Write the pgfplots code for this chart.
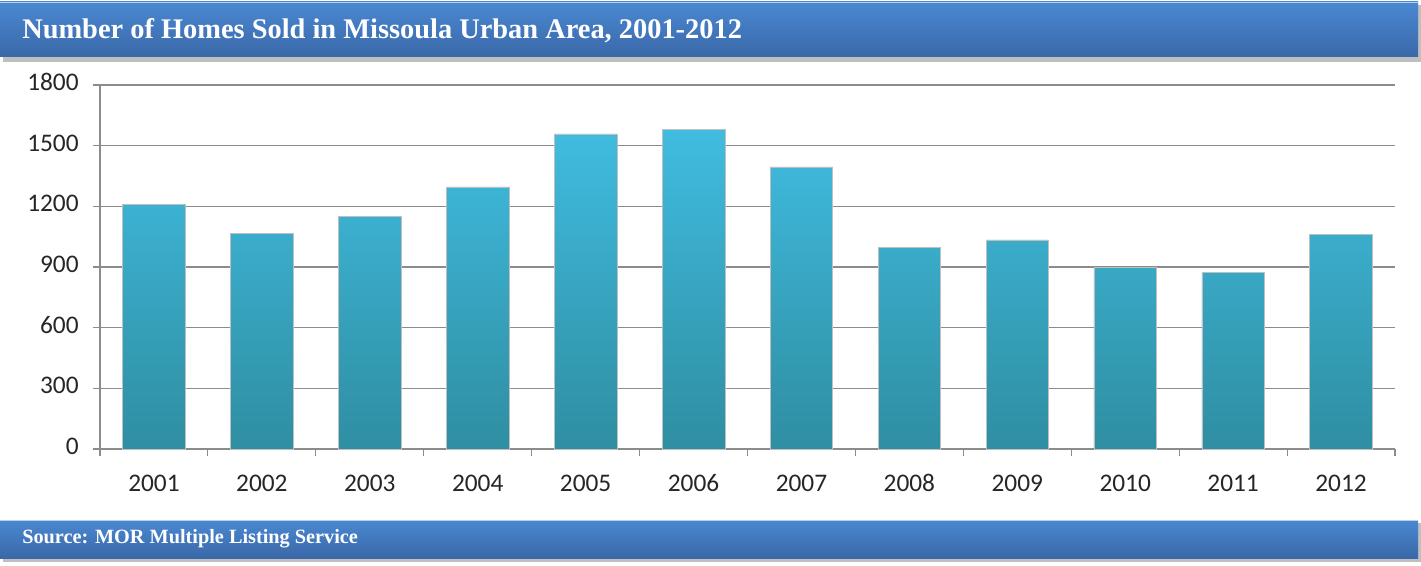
\documentclass[border=0pt]{standalone}
\usepackage{pgfplots}
\pgfplotsset{compat=1.18}
\usepackage{fontspec}
\setmainfont{Carlito}
\newfontfamily\titlefont{Liberation Serif}
\definecolor{bantop}{HTML}{4A88D2}
\definecolor{banbot}{HTML}{3A68A8}
\definecolor{bartop}{HTML}{40BCE0}
\definecolor{barbot}{HTML}{2F8EA2}
\definecolor{axgray}{HTML}{8C8C8C}
\begin{document}
\begin{tikzpicture}
\begin{scope}[x=0.75pt,y=0.75pt]
\path[use as bounding box, fill=white] (0,0) rectangle (1421,565);
% title banner
\fill[black!25] (3,503) rectangle (1421,560);
\shade[top color=bantop, bottom color=banbot] (0,508) rectangle (1418,563);
\draw[white!60!bantop, line width=0.6pt] (0,563) -- (1418,563);
\node[anchor=west, text=white, inner sep=0pt, font=\titlefont\bfseries\fontsize{21.3pt}{24pt}\selectfont] at (22,534) {Number of Homes Sold in Missoula Urban Area, 2001-2012};
% footer banner
\fill[black!25] (3,3) rectangle (1421,42);
\shade[top color=bantop, bottom color=banbot] (0,7) rectangle (1418,45);
\draw[white!60!bantop, line width=0.6pt] (0,45) -- (1418,45);
\node[anchor=west, text=white, inner sep=0pt, font=\titlefont\bfseries\fontsize{15.2pt}{17pt}\selectfont] at (22,26) {Source: MOR Multiple Listing Service};
\end{scope}
\begin{axis}[
  at={(75pt,87pt)}, anchor=south west,
  scale only axis, width=971.25pt, height=273pt,
  xmin=-0.5, xmax=11.5, ymin=0, ymax=1800,
  ytick={0,300,...,1800},
  xtick={0,...,11},
  xticklabels={2001,2002,2003,2004,2005,2006,2007,2008,2009,2010,2011,2012},
  minor xtick={-0.5,0.5,...,11.5},
  axis x line*=bottom, axis y line*=left,
  axis line style={draw=axgray, line width=0.9pt},
  tick align=outside,
  major tick length=5.5pt, minor tick length=5.5pt,
  major x tick style={draw=none},
  minor x tick style={draw=axgray, line width=0.8pt},
  y tick style={draw=axgray, line width=0.8pt},
  ymajorgrids, grid style={draw=axgray, line width=1pt},
  tick label style={font=\fontsize{19pt}{21pt}\selectfont, text=black!85},
  typeset ticklabels with strut,
  xticklabel style={yshift=-8pt},
  yticklabel style={xshift=-7pt},
  /pgf/number format/assume math mode=true,
  /pgf/number format/1000 sep={},
  ybar, bar width=0.58,
]
\addplot[draw=black!25, line width=0.4pt, top color=bartop, bottom color=barbot]
coordinates {(0,1210) (1,1068) (2,1149) (3,1296) (4,1558) (5,1582) (6,1395) (7,997) (8,1034) (9,899) (10,874) (11,1062)};
\end{axis}
\end{tikzpicture}
\end{document}
